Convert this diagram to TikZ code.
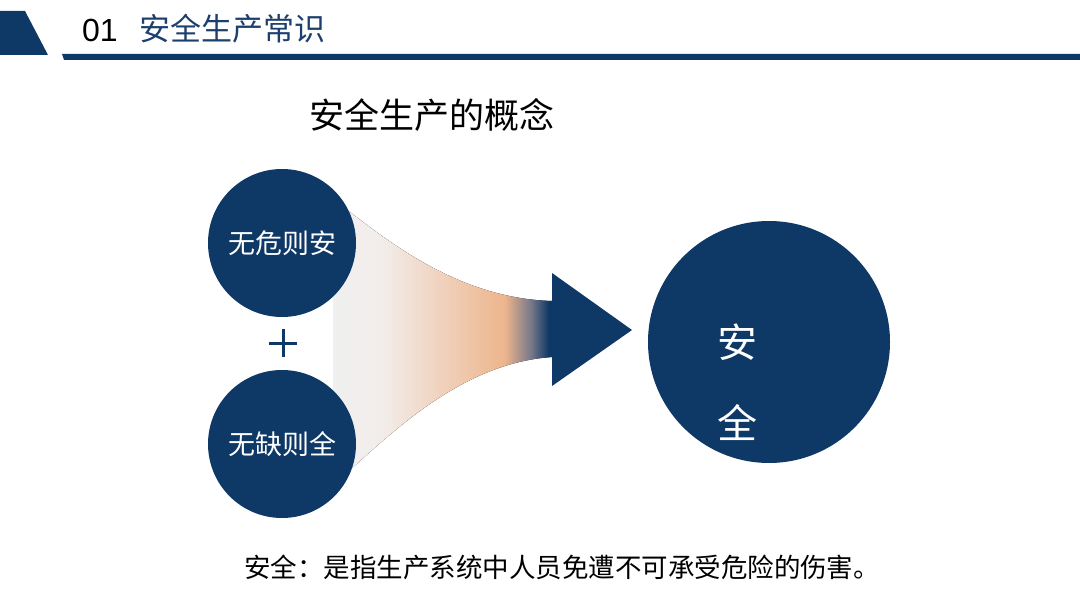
\documentclass[tikz,border=0pt]{standalone}
\usepackage{fontspec}
\setmainfont{Liberation Sans}
\newfontfamily\cjk{Noto Sans CJK SC}
\definecolor{navy}{HTML}{0E3866}
\definecolor{headblue}{HTML}{1C3F6E}
\pgfdeclarehorizontalshading{funnelshade}{100bp}{rgb(0bp)=(0.94,0.94,0.94); rgb(25bp)=(0.94,0.94,0.94); rgb(36bp)=(0.95,0.93,0.92); rgb(64bp)=(0.93,0.71,0.55); rgb(70bp)=(0.47,0.47,0.54); rgb(74bp)=(0.06,0.22,0.40); rgb(100bp)=(0.06,0.22,0.40)}
\tikzset{
  bluedisc/.style={circle, fill=navy, inner sep=0pt, minimum size=#1},
  disctext/.style={text=white, font=\cjk\fontsize{27}{27}\selectfont},
}
\begin{document}
\begin{tikzpicture}[x=1pt,y=-1pt]
\useasboundingbox (0,0) rectangle (1080,607);
\fill[white] (0,0) rectangle (1080,607);
% header
\fill[navy] (0,11) -- (25,11) -- (48,55) -- (0,55) -- cycle;
\fill[navy] (62,54) -- (1080,54) -- (1080,60) -- (64,60) -- cycle;
\node[anchor=west, inner sep=0pt, font=\fontsize{32}{32}\selectfont] (num) at (82,30) {01};
\node[anchor=west, inner sep=0pt, text=headblue, font=\cjk\fontsize{31}{31}\selectfont] (head) at (139,29) {安全生产常识};
% title
\node[inner sep=0pt, font=\cjk\fontsize{35}{35}\selectfont] (title) at (432,115) {安全生产的概念};
% funnel
\fill[shading=funnelshade] (333,207) -- (350,212) .. controls (405,255) and (470,299) .. (553,301)
  -- (553,357) .. controls (470,362) and (405,420) .. (350,470) -- (333,477) -- cycle;
\fill[navy] (552,273) -- (632,330) -- (552,386) -- cycle;
% circles
\node[bluedisc=148pt] (c1) at (282,243) {};
\node[disctext] at (c1) {无危则安};
\node[bluedisc=148pt] (c2) at (282,444) {};
\node[disctext] at (c2) {无缺则全};
\node[bluedisc=242pt] (c3) at (769,342) {};
\node[text=white, font=\cjk\fontsize{40}{40}\selectfont, inner sep=0pt] (an) at (737,342) {安};
\node[text=white, font=\cjk\fontsize{40}{40}\selectfont, inner sep=0pt] (quan) at (737,423) {全};
% plus
\draw[navy, line width=3pt] (269,343) -- (297,343) (283,329) -- (283,357);
% bottom text
\node[inner sep=0pt, font=\cjk\fontsize{26.5}{26.5}\selectfont] (def) at (562,567) {安全：是指生产系统中人员免遭不可承受危险的伤害。};
\end{tikzpicture}
\end{document}
